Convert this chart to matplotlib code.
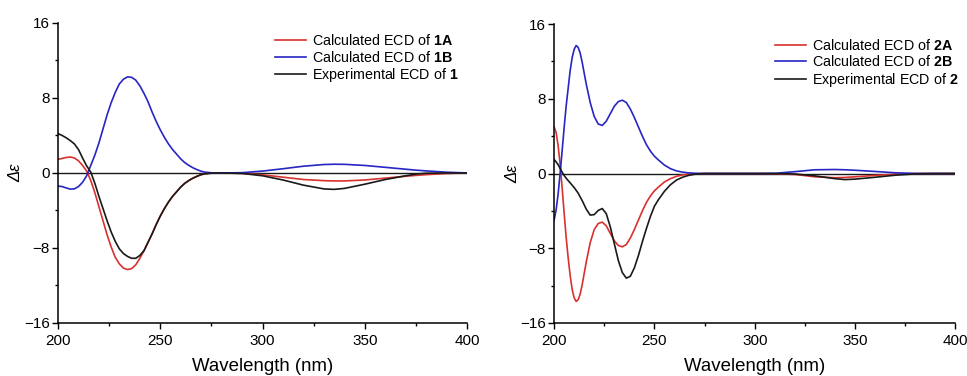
import matplotlib
matplotlib.use("Agg")
import matplotlib.pyplot as plt
from matplotlib.ticker import MultipleLocator

plt.rcParams['font.family'] = ['Liberation Sans', 'DejaVu Sans']
plt.rcParams['mathtext.fontset'] = 'custom'
plt.rcParams['mathtext.bf'] = 'Liberation Sans:bold'
plt.rcParams['mathtext.rm'] = 'Liberation Sans'

# ---- panel 1 data ----
wl1 = [200, 202, 204, 206, 208, 210, 212, 214, 216, 218, 220, 222, 224, 226, 228, 230,
       232, 234, 236, 238, 240, 242, 244, 246, 248, 250, 252, 254, 256, 258, 260, 262,
       264, 266, 268, 270, 272, 276, 280, 290, 300, 310, 320, 330, 335, 340, 350, 360,
       370, 375, 380, 390, 400]
calc_1A = [1.45, 1.55, 1.65, 1.7, 1.6, 1.3, 0.8, 0.2, -0.8, -2.1, -3.6, -5.1, -6.6, -7.9,
           -9.0, -9.7, -10.15, -10.3, -10.2, -9.8, -9.1, -8.3, -7.4, -6.5, -5.5, -4.6,
           -3.8, -3.1, -2.5, -2.0, -1.5, -1.1, -0.8, -0.55, -0.35, -0.18, -0.08, 0.0,
           0.0, -0.05, -0.2, -0.45, -0.7, -0.82, -0.85, -0.85, -0.75, -0.55, -0.35,
           -0.26, -0.18, -0.06, 0.0]
calc_1B = [-1.4, -1.45, -1.6, -1.72, -1.7, -1.45, -1.0, -0.3, 0.8, 1.9, 3.2, 4.7, 6.2, 7.5,
           8.6, 9.5, 10.0, 10.25, 10.2, 9.9, 9.3, 8.5, 7.6, 6.5, 5.5, 4.6, 3.8, 3.1, 2.5,
           2.0, 1.5, 1.1, 0.8, 0.55, 0.35, 0.18, 0.08, 0.0, 0.0, 0.03, 0.2, 0.45, 0.72,
           0.9, 0.93, 0.92, 0.8, 0.6, 0.4, 0.3, 0.22, 0.08, 0.0]
exp_1 = [4.2, 4.0, 3.75, 3.45, 3.1, 2.5, 1.6, 0.75, 0.1, -1.1, -2.5, -3.8, -5.1, -6.3,
         -7.3, -8.1, -8.6, -8.9, -9.1, -9.1, -8.8, -8.3, -7.4, -6.5, -5.5, -4.6, -3.8,
         -3.1, -2.5, -2.0, -1.5, -1.1, -0.8, -0.55, -0.35, -0.18, -0.08, 0.0, 0.0,
         -0.05, -0.3, -0.75, -1.3, -1.7, -1.75, -1.65, -1.2, -0.7, -0.3, -0.12, -0.03,
         0.0, 0.0]

# ---- panel 2 data ----
wl2 = [200, 201, 202, 203, 204, 205, 206, 207, 208, 209, 210, 211, 212, 213, 214, 216,
       218, 220, 222, 224, 226, 228, 230, 232, 234, 236, 238, 240, 242, 244, 246, 248,
       250, 252, 255, 258, 261, 264, 267, 270, 275, 280, 290, 300, 310, 320, 330, 340,
       345, 350, 360, 370, 380, 390, 400]
calc_2A = [5.0, 4.4, 3.0, 1.0, -1.5, -4.2, -6.8, -9.0, -10.9, -12.4, -13.3, -13.7, -13.5,
           -12.9, -11.9, -9.5, -7.4, -6.0, -5.35, -5.2, -5.6, -6.4, -7.2, -7.7, -7.85,
           -7.6, -6.9, -6.0, -5.0, -4.0, -3.1, -2.4, -1.85, -1.45, -0.9, -0.55, -0.3,
           -0.15, -0.07, -0.03, 0.0, 0.0, 0.0, 0.0, -0.02, -0.1, -0.35, -0.45, -0.42,
           -0.35, -0.2, -0.07, 0.0, 0.0, 0.0]
calc_2B = [-5.0, -3.9, -2.2, 0.0, 2.4, 4.9, 7.2, 9.1, 11.0, 12.4, 13.3, 13.7, 13.5, 12.9,
           11.9, 9.6, 7.6, 6.1, 5.3, 5.15, 5.6, 6.4, 7.2, 7.7, 7.85, 7.6, 6.9, 6.0, 5.0,
           4.0, 3.1, 2.4, 1.85, 1.45, 0.9, 0.52, 0.28, 0.15, 0.07, 0.03, 0.0, 0.0, 0.0,
           0.0, 0.02, 0.2, 0.4, 0.43, 0.4, 0.35, 0.22, 0.08, 0.01, 0.0, 0.0]
exp_2 = [1.5, 1.25, 0.95, 0.55, 0.15, -0.2, -0.5, -0.75, -1.0, -1.25, -1.5, -1.8, -2.1,
         -2.5, -2.9, -3.8, -4.45, -4.4, -3.95, -3.75, -4.3, -5.7, -7.5, -9.3, -10.6,
         -11.2, -11.0, -10.1, -8.8, -7.3, -5.9, -4.6, -3.5, -2.8, -1.9, -1.2, -0.7,
         -0.4, -0.2, -0.08, 0.0, 0.0, 0.0, 0.0, 0.0, -0.05, -0.25, -0.55, -0.65, -0.6,
         -0.4, -0.18, -0.04, 0.0, 0.0]

red = '#d8312e'
blue = '#2626c4'
black = '#1a1a1a'

fig = plt.figure(figsize=(9.67, 3.76), dpi=100)
ax1 = fig.add_axes([0.060, 0.141, 0.423, 0.798])
ax2 = fig.add_axes([0.573, 0.141, 0.415, 0.795])


def style_panel(ax, wl, a, b, e, num, leg_x, leg_y):
    ax.axhline(0, color=black, lw=1.0, zorder=1)
    ax.plot(wl, a, color=red, lw=1.2, label=r'Calculated ECD of $\mathbf{%sA}$' % num)
    ax.plot(wl, b, color=blue, lw=1.2, label=r'Calculated ECD of $\mathbf{%sB}$' % num)
    ax.plot(wl, e, color=black, lw=1.2, label=r'Experimental ECD of $\mathbf{%s}$' % num)
    ax.set_xlim(200, 400)
    ax.set_ylim(-16, 16)
    ax.xaxis.set_major_locator(MultipleLocator(50))
    ax.xaxis.set_minor_locator(MultipleLocator(25))
    ax.yaxis.set_major_locator(MultipleLocator(8))
    ax.yaxis.set_minor_locator(MultipleLocator(4))
    ax.tick_params(which='major', direction='out', length=4, width=1, labelsize=11)
    ax.tick_params(axis='x', which='major', pad=4)
    ax.tick_params(axis='y', which='major', pad=2)
    ax.tick_params(which='minor', direction='out', length=2, width=1)
    for s in ['top', 'right']:
        ax.spines[s].set_visible(False)
    for s in ['left', 'bottom']:
        ax.spines[s].set_linewidth(1.1)
    ax.set_xlabel('Wavelength (nm)', fontsize=13.4, labelpad=7)
    ax.set_ylabel('Δε', fontsize=12, style='italic', labelpad=0)
    ax.legend(loc='upper left', bbox_to_anchor=(leg_x, leg_y), frameon=False,
              fontsize=10.3, handlelength=2.2, handletextpad=0.4, labelspacing=0.12,
              borderpad=0, borderaxespad=0)


style_panel(ax1, wl1, calc_1A, calc_1B, exp_1, '1', 0.53, 0.967)
style_panel(ax2, wl2, calc_2A, calc_2B, exp_2, '2', 0.55, 0.955)

fig.savefig('out.png', dpi=100)
